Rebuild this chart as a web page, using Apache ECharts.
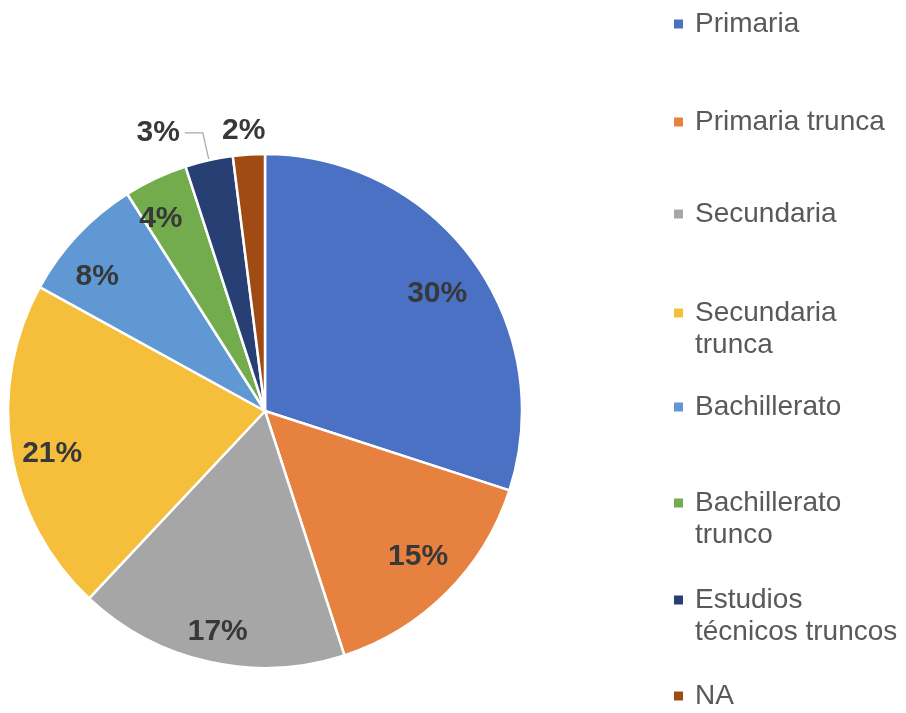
<!DOCTYPE html>
<html>
<head>
<meta charset="utf-8">
<script src="https://cdn.jsdelivr.net/npm/echarts@6/dist/echarts.min.js"></script>
<style>
    html, body { margin: 0; padding: 0; background: #fff; }
    #chart { width: 906px; height: 713px; }
</style>
</head>
<body>
<div id="chart"></div>
<script>
    // categories and their shares (%)
    var categories = ['Primaria', 'Primaria trunca', 'Secundaria', 'Secundaria trunca',
        'Bachillerato', 'Bachillerato trunco', 'Estudios técnicos truncos', 'NA'];
    var values = [30, 15, 17, 21, 8, 4, 3, 2];
    // legend text as it wraps in the picture
    var legendText = ['Primaria', 'Primaria trunca', 'Secundaria', 'Secundaria\ntrunca',
        'Bachillerato', 'Bachillerato\ntrunco', 'Estudios\ntécnicos truncos', 'NA'];
    var colors = ['#4a71c4', '#e7813f', '#a6a6a6', '#f5bf3c', '#5f98d3', '#72ac4c', '#273f72', '#a04a14'];

    var FONT = "'Liberation Sans', Arial, Helvetica, sans-serif";
    var cx = 265, cy = 411, R = 257;
    var outsideIdx = [6, 7];          // small slices labelled outside
    var legendIconY = [24, 122, 214, 313, 407, 503, 600, 696];
    // small label nudges (px) so labels sit where the original placed them
    var labelNudge = [[-3, 10], [0, -7], [0, 9], [1, 9], [-10, 14], [-12, 4], [0, 0], [23, 0]];

    var myChart = echarts.init(document.getElementById('chart'));

    var mainData = categories.map(function (name, i) {
        var outside = outsideIdx.indexOf(i) >= 0;
        return {
            name: name,
            value: values[i],
            itemStyle: { color: colors[i] },
            label: { show: outside },
            labelLine: i === 6 ? { show: true, length: 28, length2: 18 }
                               : { show: false, length: 24, length2: 0 }
        };
    });

    var ringData = categories.map(function (name, i) {
        return {
            name: name,
            value: values[i],
            label: { show: outsideIdx.indexOf(i) < 0 }
        };
    });

    var labelStyle = {
        formatter: '{c}%',
        fontFamily: FONT,
        fontWeight: 'bold',
        fontSize: 30,
        color: '#383838'
    };

    function nudge(params) {
        var n = labelNudge[params.dataIndex];
        return { dx: n[0], dy: n[1] };
    }

    var legends = categories.map(function (name, i) {
        var twoLines = legendText[i].indexOf('\n') >= 0;
        return {
            orient: 'vertical',
            left: 672,
            top: legendIconY[i] - (twoLines ? 48 : 16),
            padding: 0,
            itemWidth: 11,
            itemHeight: 11,
            icon: 'rect',
            selectedMode: false,
            data: [name],
            // a blank first line keeps the marker beside the first text line
            formatter: function (n) {
                var t = legendText[categories.indexOf(n)];
                return t.indexOf('\n') >= 0 ? ' \n' + t : t;
            },
            textStyle: {
                fontFamily: FONT,
                fontSize: 28,
                lineHeight: 32,
                color: '#595959',
                padding: [0, 0, 0, 6]
            }
        };
    });

    var option = {
        backgroundColor: '#ffffff',
        animation: false,
        legend: legends,
        series: [{
            type: 'pie',
            center: [cx, cy],
            radius: R,
            startAngle: 90,
            clockwise: true,
            avoidLabelOverlap: false,
            itemStyle: { borderColor: '#ffffff', borderWidth: 2.5 },
            label: Object.assign({ position: 'outside' }, labelStyle),
            labelLine: { lineStyle: { color: '#a6a6a6', width: 1.2 }, smooth: false },
            labelLayout: nudge,
            emphasis: { disabled: true },
            data: mainData
        }, {
            // transparent ring that only carries the inside labels further out
            type: 'pie',
            center: [cx, cy],
            radius: [170, R],
            startAngle: 90,
            clockwise: true,
            silent: true,
            avoidLabelOverlap: false,
            itemStyle: { color: 'rgba(0,0,0,0)' },
            label: Object.assign({ position: 'inside' }, labelStyle),
            labelLine: { show: false },
            labelLayout: nudge,
            emphasis: { disabled: true },
            data: ringData
        }]
    };
    myChart.setOption(option, true);
</script>
</body>
</html>
